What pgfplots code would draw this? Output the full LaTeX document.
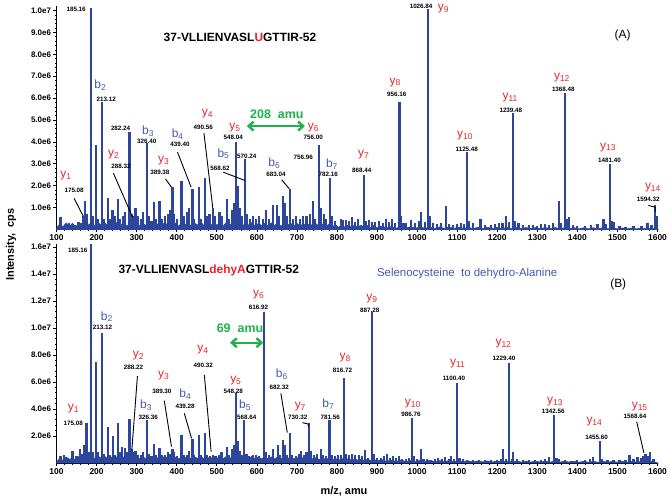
\documentclass[border=0pt]{standalone}
\usepackage{fontspec}
\setmainfont{Liberation Sans}
\usepackage{pgfplots}
\pgfplotsset{compat=1.18}
\usepackage{pgfplotstable}
\usetikzlibrary{arrows.meta}

\definecolor{spec}{RGB}{44,70,158}
\definecolor{ired}{RGB}{232,35,40}
\definecolor{iblue}{RGB}{62,92,172}
\definecolor{igreen}{RGB}{30,178,76}

% ion label: colour, letter, index
\newcommand{\ion}[3]{\textcolor{#1}{\fontsize{12}{12}\selectfont #2\raisebox{-0.3ex}{\fontsize{8.5}{8.5}\selectfont #3}}}

% baseline noise: mz, top panel, bottom panel (units of 1e6 cps)
\pgfplotstableread{
mz a b
100 0.05 0.05
108 0.25 0.35
116 0.12 0.2
124 0.3 0.45
132 0.15 0.25
140 0.28 0.4
148 0.1 0.2
156 0.32 0.5
164 0.18 0.3
172 0.3 0.45
180 0.2 0.35
188 0.35 0.55
196 0.15 0.3
204 0.3 0.5
212 0.2 0.35
220 0.33 0.5
228 0.15 0.3
236 0.3 0.45
244 0.18 0.3
252 0.35 0.5
260 0.2 0.35
268 0.3 0.45
276 0.15 0.3
284 0.32 0.5
292 0.2 0.35
300 0.35 0.5
308 0.15 0.3
316 0.28 0.45
324 0.18 0.3
332 0.3 0.5
340 0.2 0.3
348 0.33 0.45
356 0.15 0.3
364 0.3 0.5
372 0.2 0.35
380 0.35 0.5
388 0.18 0.3
396 0.3 0.45
404 0.15 0.3
412 0.28 0.45
420 0.2 0.35
428 0.33 0.5
436 0.15 0.3
444 0.3 0.45
452 0.2 0.35
460 0.35 0.5
468 0.18 0.3
476 0.3 0.45
484 0.15 0.3
492 0.32 0.5
500 0.2 0.35
508 0.3 0.45
516 0.15 0.3
524 0.33 0.5
532 0.2 0.35
540 0.3 0.45
548 0.18 0.3
556 0.35 0.5
564 0.15 0.3
572 0.3 0.45
580 0.2 0.35
588 0.32 0.5
596 0.15 0.3
604 0.28 0.45
612 0.18 0.3
620 0.3 0.45
628 0.15 0.3
636 0.3 0.45
644 0.18 0.3
652 0.3 0.45
660 0.15 0.3
668 0.28 0.45
676 0.18 0.3
684 0.3 0.45
692 0.15 0.3
700 0.28 0.4
708 0.15 0.3
716 0.27 0.4
724 0.15 0.28
732 0.28 0.4
740 0.15 0.3
748 0.26 0.4
756 0.12 0.25
764 0.25 0.38
772 0.12 0.25
780 0.25 0.38
788 0.12 0.22
796 0.22 0.35
804 0.1 0.2
812 0.22 0.35
820 0.1 0.2
828 0.2 0.33
836 0.1 0.2
844 0.2 0.32
852 0.1 0.2
860 0.2 0.3
868 0.1 0.18
876 0.18 0.3
884 0.08 0.18
892 0.18 0.28
900 0.08 0.15
912 0.15 0.25
924 0.07 0.12
936 0.14 0.22
948 0.06 0.12
960 0.14 0.22
972 0.06 0.1
984 0.13 0.2
996 0.06 0.1
1008 0.12 0.2
1020 0.05 0.1
1032 0.12 0.2
1044 0.05 0.1
1056 0.12 0.18
1068 0.05 0.1
1080 0.11 0.18
1092 0.05 0.08
1104 0.11 0.18
1116 0.05 0.08
1128 0.1 0.16
1140 0.04 0.08
1152 0.1 0.16
1164 0.04 0.08
1176 0.1 0.15
1188 0.04 0.08
1200 0.1 0.15
1212 0.04 0.08
1224 0.1 0.15
1236 0.04 0.08
1248 0.09 0.15
1260 0.04 0.07
1272 0.09 0.14
1284 0.04 0.07
1296 0.09 0.14
1308 0.04 0.07
1320 0.09 0.14
1332 0.04 0.07
1344 0.09 0.13
1356 0.04 0.07
1368 0.08 0.13
1380 0.04 0.07
1392 0.08 0.13
1404 0.03 0.06
1416 0.08 0.12
1428 0.03 0.06
1440 0.08 0.12
1452 0.03 0.06
1464 0.08 0.12
1476 0.03 0.06
1488 0.08 0.12
1500 0.03 0.06
1512 0.07 0.12
1524 0.03 0.06
1536 0.07 0.12
1548 0.03 0.06
1560 0.07 0.12
1572 0.03 0.06
1584 0.07 0.12
1596 0.03 0.06
1600 0 0
}\noise

\pgfplotsset{
  specaxis/.style={
    scale only axis, width=601bp,
    xmin=100, xmax=1600, ymin=0,
    axis x line*=bottom, axis y line*=left,
    axis line style={black, line width=0.9bp},
    tick align=outside, major tick length=3bp, minor tick length=1.6bp,
    tick style={black, line width=0.6bp},
    xtick={100,200,...,1600}, minor x tick num=4,
    /pgf/number format/.cd, 1000 sep={}, assume math mode=true, /pgfplots/.cd,
    xticklabel style={font=\bfseries\fontsize{8.5}{9}\selectfont, yshift=1bp},
    yticklabel style={font=\bfseries\fontsize{8}{9}\selectfont, xshift=1bp},
    clip=false,
  },
  peaks/.style={ycomb, draw=spec, line width=2.2bp, mark=none},
  base/.style={draw=spec, fill=spec, line width=0.6bp, mark=none},
}
\tikzset{
  lab/.style={font=\bfseries\fontsize{6.3}{6.3}\selectfont, inner sep=0pt},
  ldr/.style={black, line width=0.9bp},
  gar/.style={igreen, line width=2.4bp, {Straight Barb[length=5bp,width=9bp]}-{Straight Barb[length=5bp,width=9bp]}},
}

\begin{document}
\begin{tikzpicture}
\useasboundingbox (0,0) rectangle (670bp,502bp);

% ---------- (A) ----------
\begin{axis}[specaxis, at={(56.5bp,272.5bp)}, anchor=south west,
  height=223.4bp, ymax=10.2,
  ytick={1,2,...,10},
  yticklabels={1.0e6,2.0e6,3.0e6,4.0e6,5.0e6,6.0e6,7.0e6,8.0e6,9.0e6,1.0e7},
  minor y tick num=4]
\addplot[base] table[x=mz, y=a] {\noise} \closedcycle;
\addplot[peaks] coordinates {
(110,0.55) (132,0.3) (140,0.25) (147,0.2) (155,0.35) (160,0.3) (167,0.6) (171,1.3) (175,0.7)
(185.16,10.1) (190,0.6) (199,3.84) (203,0.5) (213.12,5.81) (218,0.5) (228,1.46) (233,0.5)
(240,0.9) (246,0.6) (254,1.4) (258,0.5) (266,0.6) (270,0.8) (282.24,4.47) (287,0.7) (291,0.6)
(297,1.0) (303,0.6) (311,0.5) (315,0.8) (326.4,3.93) (331,0.6) (337,0.4) (343,1.25) (348,0.5)
(357,1.3) (362,0.5) (371,0.6) (378,0.7) (384,0.9) (389.38,1.93) (394,0.7) (400,0.5) (412,2.2)
(417,0.6) (425,0.8) (430,1.0) (439.4,1.86) (444,0.5) (456,1.95) (460,0.5) (470,2.34) (475,0.6)
(482,0.7) (490.56,1.0) (496,0.6) (507,0.8) (512,0.6) (525,1.4) (530,0.5) (538,0.9) (544,1.2)
(548.04,4.0) (552,2.0) (557,1.0) (563,0.6) (570.24,3.2) (576,0.7) (582,0.5) (590,0.6) (598,0.5)
(605,0.6) (615,0.5) (622,0.87) (630,0.5) (640,1.14) (650,1.14) (656,0.6) (666,1.55) (670,1.2)
(675,0.6) (683.04,1.87) (690,0.5) (698,0.6) (707,0.5) (715,0.6) (724,0.6) (732,0.7) (740,1.3)
(745,0.5) (756,3.84) (760,1.0) (767,0.7) (773,0.5) (782.16,2.33) (787,0.6) (795,0.4) (810,0.5)
(815,0.45) (822,0.45) (830,0.4) (837,0.55) (845,0.35) (853,0.5) (868.44,2.5) (873,0.4) (880,0.45)
(887,0.35) (895,0.35) (905,0.4) (914,0.3) (922,0.5) (930,0.35) (937,0.5) (945,0.3) (956.16,5.81)
(960,0.6) (966,0.3) (972,0.3) (985,0.45) (995,0.3) (1004,0.4) (1010,0.8) (1020,0.35)
(1026.84,10.05) (1032,0.6) (1040,0.3) (1050,0.25) (1060,0.3) (1072,1.05) (1080,0.25) (1090,0.2)
(1100,0.25) (1110,0.3) (1118,0.25) (1125.48,3.53) (1130,0.4) (1140,0.3) (1158,0.5) (1170,0.2)
(1185,0.2) (1195,0.25) (1205,0.3) (1213,0.3) (1222,0.6) (1230,0.35) (1239.48,5.3) (1245,0.4)
(1253,0.3) (1265,0.2) (1280,0.2) (1290,0.2) (1300,0.15) (1310,0.25) (1320,0.25) (1330,0.2)
(1340,0.3) (1354,1.28) (1360,0.3) (1368.48,6.22) (1374,0.5) (1380,0.55) (1390,0.2) (1400,0.15)
(1420,0.15) (1435,0.2) (1450,0.25) (1465,0.5) (1470,0.25) (1481.4,3.0) (1486,0.4) (1492,0.35)
(1505,0.15) (1520,0.1) (1540,0.15) (1560,0.15) (1575,0.3) (1585,0.2) (1594.32,1.1) (1598,0.6)
};
% leaders
\draw[ldr] (axis cs:144,1.42) -- (axis cs:167,0.6);
\draw[ldr] (axis cs:242,2.57) -- (axis cs:290,0.56);
\draw[ldr] (axis cs:372,2.31) -- (axis cs:387,1.93);
\draw[ldr] (axis cs:402,3.53) -- (axis cs:436,1.93);
\draw[ldr] (axis cs:468,4.4) -- (axis cs:490,0.99);
\draw[ldr] (axis cs:516,2.62) -- (axis cs:570,2.24);
\draw[ldr] (axis cs:662,2.27) -- (axis cs:681,1.86);
\draw[ldr] (axis cs:1577,1.1) -- (axis cs:1594,1.02) -- (axis cs:1594,0.8);
% m/z labels
\node[lab] at (axis cs:149,10.03) {185.16};
\node[lab] at (axis cs:144,1.81) {175.08};
\node[lab] at (axis cs:224,5.92) {213.12};
\node[lab] at (axis cs:260,4.6) {282.24};
\node[lab] at (axis cs:261,2.88) {288.32};
\node[lab] at (axis cs:325,4.02) {326.40};
\node[lab] at (axis cs:358,2.62) {389.38};
\node[lab] at (axis cs:408,3.88) {439.40};
\node[lab] at (axis cs:466,4.67) {490.56};
\node[lab] at (axis cs:541,4.21) {548.04};
\node[lab] at (axis cs:575,3.35) {570.24};
\node[lab] at (axis cs:508,2.8) {568.62};
\node[lab] at (axis cs:741,4.19) {756.00};
\node[lab] at (axis cs:716,3.3) {756.96};
\node[lab] at (axis cs:648,2.54) {683.04};
\node[lab] at (axis cs:778,2.54) {782.16};
\node[lab] at (axis cs:862,2.69) {868.44};
\node[lab] at (axis cs:949,6.15) {956.16};
\node[lab] at (axis cs:1010,10.18) {1026.84};
\node[lab] at (axis cs:1124,3.68) {1125.48};
\node[lab] at (axis cs:1234,5.43) {1239.48};
\node[lab] at (axis cs:1365,6.38) {1368.48};
\node[lab] at (axis cs:1480,3.15) {1481.40};
\node[lab] at (axis cs:1577,1.37) {1594.32};
% ion labels
\node at (axis cs:123,2.47) {\ion{ired}{y}{1}};
\node at (axis cs:209,6.58) {\ion{iblue}{b}{2}};
\node at (axis cs:242,3.42) {\ion{ired}{y}{2}};
\node at (axis cs:328,4.47) {\ion{iblue}{b}{3}};
\node at (axis cs:367,3.15) {\ion{ired}{y}{3}};
\node at (axis cs:402,4.37) {\ion{iblue}{b}{4}};
\node at (axis cs:476,5.31) {\ion{ired}{y}{4}};
\node at (axis cs:545,4.64) {\ion{ired}{y}{5}};
\node at (axis cs:516,3.46) {\ion{iblue}{b}{5}};
\node at (axis cs:741,4.64) {\ion{ired}{y}{6}};
\node at (axis cs:643,3.03) {\ion{iblue}{b}{6}};
\node at (axis cs:787,3.0) {\ion{iblue}{b}{7}};
\node at (axis cs:866,3.42) {\ion{ired}{y}{7}};
\node at (axis cs:945,6.73) {\ion{ired}{y}{8}};
\node at (axis cs:1065,10.08) {\ion{ired}{y}{9}};
\node at (axis cs:1119,4.29) {\ion{ired}{y}{10}};
\node at (axis cs:1232,6.04) {\ion{ired}{y}{11}};
\node at (axis cs:1361,6.93) {\ion{ired}{y}{12}};
\node at (axis cs:1476,3.76) {\ion{ired}{y}{13}};
\node at (axis cs:1588,1.93) {\ion{ired}{y}{14}};
% annotations
\draw[gar] (axis cs:575,4.72) -- (axis cs:720,4.72);
\node[igreen, font=\bfseries\fontsize{12.5}{12.5}\selectfont] at (axis cs:650,5.28) {208\ \ amu};
\node[font=\bfseries\fontsize{12}{12}\selectfont] at (axis cs:558,8.78) {37-VLLIENVASL\textcolor{ired}{U}GTTIR-52};
\node[font=\fontsize{12}{12}\selectfont] at (axis cs:1513,8.86) {(A)};
\end{axis}

% ---------- (B) ----------
\begin{axis}[specaxis, at={(56.5bp,39bp)}, anchor=south west,
  height=218.7bp, ymax=16.2,
  ytick={2,4,...,16},
  yticklabels={2.0e6,4.0e6,6.0e6,8.0e6,1.0e7,1.2e7,1.4e7,1.6e7},
  minor y tick num=4]
\addplot[base] table[x=mz, y=b] {\noise} \closedcycle;
\addplot[peaks] coordinates {
(110,0.5) (118,0.6) (128,0.4) (140,0.9) (150,0.5) (158,1.0) (165,0.7) (170,1.3) (175.08,2.94)
(180,0.8) (185.16,16.2) (190,0.8) (199,7.5) (204,0.8) (213.12,9.6) (218,0.7) (228,2.65) (233,0.6)
(242,2.0) (247,0.6) (254,2.94) (259,0.8) (264,1.2) (270,1.1) (276,0.8) (282,3.24) (288.22,1.0)
(292,0.8) (297,0.9) (303,0.6) (311,0.6) (316,0.8) (326.36,3.2) (331,0.7) (337,0.5) (343,1.4)
(349,0.6) (357,1.1) (362,0.6) (370,0.6) (378,0.8) (384,0.7) (389.3,1.0) (394,0.8) (400,0.5)
(412,2.1) (418,0.6) (425,0.6) (430,0.9) (439.28,1.8) (444,0.6) (456,2.05) (461,0.6) (470,2.25)
(476,0.6) (483,0.5) (490.32,0.6) (497,0.5) (505,0.6) (512,0.8) (525,1.2) (531,0.6) (538,1.0)
(544,1.3) (548.28,5.2) (552,1.6) (557,0.9) (563,0.6) (568.64,3.2) (574,0.7) (581,0.5) (590,0.6)
(598,0.6) (606,0.5) (616.92,11.2) (622,0.8) (630,0.6) (640,1.0) (652,1.3) (658,0.6) (666,1.7)
(670,1.3) (676,0.6) (682.32,2.25) (688,0.6) (697,0.5) (705,0.7) (710,0.9) (718,0.6) (724,0.8)
(730.32,2.94) (736,0.9) (742,0.6) (750,0.7) (760,1.0) (766,0.6) (772,0.5) (781.56,3.2) (787,0.6)
(795,0.5) (802,0.6) (810,0.6) (816.72,6.3) (822,0.7) (830,0.6) (838,0.7) (845,0.6) (855,0.6)
(862,0.5) (870,0.98) (878,0.4) (887.28,11.2) (892,0.7) (900,0.4) (910,0.4) (918,0.5) (925,0.65)
(932,0.4) (940,0.55) (948,0.4) (955,0.55) (962,0.3) (972,0.3) (980,0.35) (986.76,3.3) (992,0.5)
(1000,0.3) (1010,1.0) (1016,0.3) (1025,0.3) (1035,0.25) (1045,0.3) (1052,0.4) (1062,0.3)
(1070,0.45) (1080,0.3) (1085,0.5) (1092,0.3) (1100.4,5.95) (1106,0.4) (1115,0.3) (1125,0.25)
(1140,0.2) (1155,0.25) (1170,0.25) (1185,0.2) (1200,0.25) (1210,0.3) (1215,1.0) (1222,0.3)
(1229.4,7.4) (1236,0.3) (1240,0.85) (1250,0.3) (1265,0.2) (1280,0.2) (1295,0.2) (1310,0.2)
(1320,0.3) (1330,0.45) (1342.56,3.56) (1348,0.4) (1355,0.3) (1370,0.2) (1385,0.15) (1400,0.2)
(1420,0.2) (1432,0.3) (1440,0.45) (1455.6,1.63) (1462,0.3) (1475,0.2) (1490,0.2) (1505,0.2)
(1520,0.25) (1530,0.6) (1540,0.3) (1550,0.45) (1558,0.35) (1565,0.55) (1570,0.65) (1576,0.5)
(1582,0.8) (1590,0.3)
};
% leaders
\draw[ldr] (axis cs:302,6.44) -- (axis cs:288,0.96);
\draw[ldr] (axis cs:369,4.62) -- (axis cs:387,1.21);
\draw[ldr] (axis cs:419,3.68) -- (axis cs:437,1.83);
\draw[ldr] (axis cs:469,6.52) -- (axis cs:486,0.84);
\draw[ldr] (axis cs:660,5.16) -- (axis cs:676,2.25);
\draw[ldr] (axis cs:714,2.99) -- (axis cs:728,2.89) -- (axis cs:729,2.7);
\draw[ldr] (axis cs:1548,3.06) -- (axis cs:1566,0.76);
% m/z labels
\node[lab] at (axis cs:153,15.78) {185.16};
\node[lab] at (axis cs:142,2.94) {175.08};
\node[lab] at (axis cs:215,10.05) {213.12};
\node[lab] at (axis cs:292,7.09) {288.22};
\node[lab] at (axis cs:329,3.38) {326.36};
\node[lab] at (axis cs:363,5.28) {389.30};
\node[lab] at (axis cs:421,4.17) {439.28};
\node[lab] at (axis cs:466,7.21) {490.32};
\node[lab] at (axis cs:541,5.28) {548.28};
\node[lab] at (axis cs:575,3.38) {568.64};
\node[lab] at (axis cs:604,11.53) {616.92};
\node[lab] at (axis cs:656,5.61) {682.32};
\node[lab] at (axis cs:702,3.38) {730.32};
\node[lab] at (axis cs:783,3.38) {781.56};
\node[lab] at (axis cs:814,6.84) {816.72};
\node[lab] at (axis cs:882,11.33) {887.28};
\node[lab] at (axis cs:985,3.63) {986.76};
\node[lab] at (axis cs:1092,6.27) {1100.40};
\node[lab] at (axis cs:1217,7.73) {1229.40};
\node[lab] at (axis cs:1340,3.85) {1342.56};
\node[lab] at (axis cs:1448,1.9) {1455.60};
\node[lab] at (axis cs:1544,3.43) {1568.64};
% ion labels
\node at (axis cs:142,4.05) {\ion{ired}{y}{1}};
\node at (axis cs:225,10.84) {\ion{iblue}{b}{2}};
\node at (axis cs:304,7.93) {\ion{ired}{y}{2}};
\node at (axis cs:323,4.3) {\ion{iblue}{b}{3}};
\node at (axis cs:367,6.44) {\ion{ired}{y}{3}};
\node at (axis cs:421,5.11) {\ion{iblue}{b}{4}};
\node at (axis cs:465,8.42) {\ion{ired}{y}{4}};
\node at (axis cs:547,6.07) {\ion{ired}{y}{5}};
\node at (axis cs:570,4.3) {\ion{iblue}{b}{5}};
\node at (axis cs:604,12.5) {\ion{ired}{y}{6}};
\node at (axis cs:662,6.57) {\ion{iblue}{b}{6}};
\node at (axis cs:708,4.17) {\ion{ired}{y}{7}};
\node at (axis cs:778,4.37) {\ion{iblue}{b}{7}};
\node at (axis cs:820,7.83) {\ion{ired}{y}{8}};
\node at (axis cs:887,12.2) {\ion{ired}{y}{9}};
\node at (axis cs:989,4.42) {\ion{ired}{y}{10}};
\node at (axis cs:1101,7.38) {\ion{ired}{y}{11}};
\node at (axis cs:1215,8.81) {\ion{ired}{y}{12}};
\node at (axis cs:1344,4.54) {\ion{ired}{y}{13}};
\node at (axis cs:1442,3.06) {\ion{ired}{y}{14}};
\node at (axis cs:1555,4.17) {\ion{ired}{y}{15}};
% annotations
\draw[gar] (axis cs:533,8.91) -- (axis cs:616,8.91);
\node[igreen, font=\bfseries\fontsize{12.5}{12.5}\selectfont] at (axis cs:558,9.98) {69\ \ amu};
\node[font=\bfseries\fontsize{12}{12}\selectfont] at (axis cs:480,14.24) {37-VLLIENVASL\textcolor{ired}{dehyA}GTTIR-52};
\node[iblue, font=\fontsize{11.5}{11.5}\selectfont] at (axis cs:1125,14.05) {Selenocysteine\ \ to dehydro-Alanine};
\node[font=\fontsize{12}{12}\selectfont] at (axis cs:1502,13.24) {(B)};
\end{axis}

\node[rotate=90, font=\bfseries\fontsize{11}{11}\selectfont] at (11bp,257.5bp) {Intensity,\ \ cps};
\node[font=\bfseries\fontsize{11}{11}\selectfont] at (344bp,11bp) {m/z, amu};
\end{tikzpicture}
\end{document}
